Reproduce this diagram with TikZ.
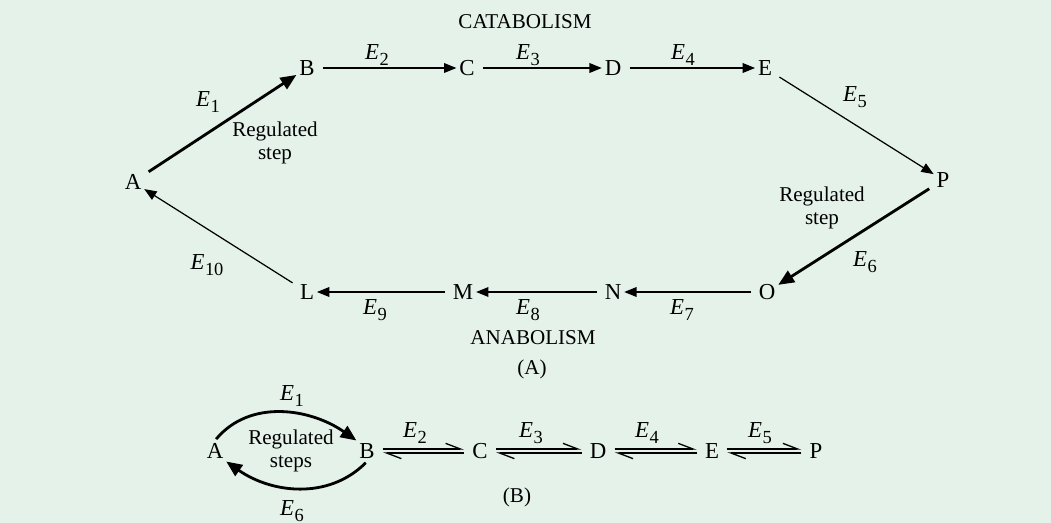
\documentclass[tikz,border=0pt]{standalone}
\usepackage{fontspec}
\setmainfont{Liberation Serif}
\usetikzlibrary{arrows.meta,positioning}
\definecolor{bgmint}{HTML}{E4F2EA}
\newcommand{\enz}[1]{{\fontsize{13}{14}\selectfont\textit{E}\kern0.3pt\raisebox{-0.5ex}{\fontsize{10.5}{11}\selectfont #1}}}
\tikzset{
  met/.style  ={inner sep=1.5pt, font=\fontsize{13}{15}\selectfont},
  lbl/.style  ={inner sep=1pt, font=\fontsize{12}{13}\selectfont, align=center},
  fl/.style   ={-{Triangle[length=7pt,width=5.5pt]}, line width=0.7pt, shorten <=3pt},
  flr/.style  ={-{Triangle[length=9pt,width=7.5pt]}, line width=1.6pt, shorten <=3pt},
  eqm/.style  ={-{Straight Barb[left,length=8.5pt,width=6.5pt]}, line width=0.75pt,
                shorten <=3pt, shorten >=3pt}
}

\begin{document}
\begin{tikzpicture}[x=0.02cm, y=-0.02cm]
  \fill[bgmint] (0,0) rectangle (1051,523);
  \useasboundingbox (0,0) rectangle (1051,523);
  % (A) the cycle
  \node[met] (A) at (133,182) {A};
  \node[met] (B) at (307,68) {B};
  \node[met] (C) at (467,68) {C};
  \node[met] (D) at (613,68) {D};
  \node[met] (E) at (765,68) {E};
  \node[met] (P) at (943,180) {P};
  \node[met] (O) at (767,292) {O};
  \node[met] (N) at (613,292) {N};
  \node[met] (M) at (463,292) {M};
  \node[met] (L) at (307,292) {L};
  \draw[flr] (A) -- (B);
  \draw[fl] (B) -- (C);
  \draw[fl] (C) -- (D);
  \draw[fl] (D) -- (E);
  \draw[fl] (E) -- (P);
  \draw[flr] (P) -- (O);
  \draw[fl] (O) -- (N);
  \draw[fl] (N) -- (M);
  \draw[fl] (M) -- (L);
  \draw[fl] (L) -- (A);
  \node[lbl] (e1) at (208,102) {\enz{1}};
  \node[lbl] (regA) at (275,143) {Regulated\\step};
  \node[lbl] (e2) at (377,55) {\enz{2}};
  \node[lbl] (e3) at (528,55) {\enz{3}};
  \node[lbl] (e4) at (683,55) {\enz{4}};
  \node[lbl] (e5) at (855,97) {\enz{5}};
  \node[lbl] (regP) at (822,208) {Regulated\\step};
  \node[lbl] (e6) at (865,262) {\enz{6}};
  \node[lbl] (e7) at (682,310) {\enz{7}};
  \node[lbl] (e8) at (528,310) {\enz{8}};
  \node[lbl] (e9) at (375,310) {\enz{9}};
  \node[lbl] (e10) at (207,265) {\enz{10}};
  \node[lbl] (cata) at (525,22) {CATABOLISM};
  \node[lbl] (ana) at (533,338) {ANABOLISM};
  \node[lbl] (capA) at (532,369) {(A)};
  % (B) the linear pathway
  \node[met] (bA) at (215,451) {A};
  \node[met] (bB) at (367,451) {B};
  \node[met] (bC) at (480,451) {C};
  \node[met] (bD) at (598,451) {D};
  \node[met] (bE) at (712,451) {E};
  \node[met] (bP) at (816,451) {P};
  \draw[flr, shorten <=1pt] (bA.north) to[out=50, in=145] (bB.north west);
  \draw[flr, shorten <=1pt] (bB.south) to[out=-135, in=-35] (bA.south east);
  \foreach \u/\v in {bB/bC, bC/bD, bD/bE, bE/bP}{
    \draw[eqm] ([yshift=1.1pt]\u.east) -- ([yshift=1.1pt]\v.west);
    \draw[eqm] ([yshift=-1.1pt]\v.west) -- ([yshift=-1.1pt]\u.east);
  }
  \node[lbl] (be1) at (292,396) {\enz{1}};
  \node[lbl] (regs) at (291,451) {Regulated\\steps};
  \node[lbl] (be6) at (292,511) {\enz{6}};
  \node[lbl] (be2) at (415,433) {\enz{2}};
  \node[lbl] (be3) at (531,433) {\enz{3}};
  \node[lbl] (be4) at (647,433) {\enz{4}};
  \node[lbl] (be5) at (760,433) {\enz{5}};
  \node[lbl] (capB) at (517,497) {(B)};
\end{tikzpicture}
\end{document}
